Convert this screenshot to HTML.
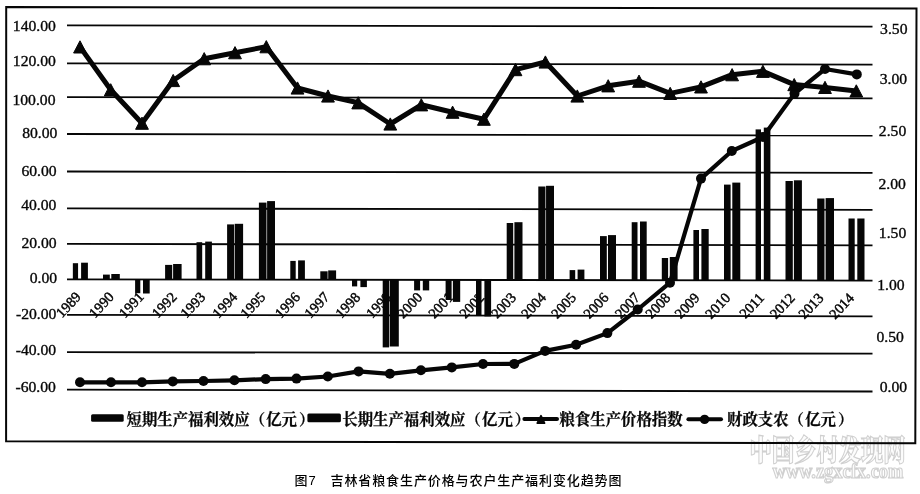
<!DOCTYPE html><html><head><meta charset="utf-8"><title>图7 吉林省粮食生产价格与农户生产福利变化趋势图</title><style>
html,body{margin:0;padding:0;background:#fff;}body{width:920px;height:494px;overflow:hidden;position:relative;}
svg{position:absolute;left:0;top:0;display:block;filter:grayscale(1);}
.num{font-family:"Liberation Serif","Times New Roman",serif;font-size:15px;fill:#060606;stroke:#060606;stroke-width:0.35px;}
.yr{font-family:"Liberation Serif","Times New Roman",serif;font-size:14.5px;fill:#060606;stroke:#060606;stroke-width:0.45px;}
.lg{font-family:"Liberation Serif","Noto Serif CJK SC",serif;font-size:15.4px;font-weight:700;fill:#060606;stroke:#060606;stroke-width:0.25px;}
.cap{font-family:"Liberation Sans","Noto Sans CJK SC",sans-serif;font-size:13px;font-weight:500;letter-spacing:0.9px;fill:#000;}
.wm{font-family:"Liberation Serif","Noto Serif CJK SC",serif;fill:#e4e4e4;stroke:#d2d2d2;stroke-width:0.6px;}
</style></head><body>
<svg width="920" height="494" viewBox="0 0 920 494">
<rect x="0" y="0" width="920" height="494" fill="#fff"/>
<text x="749.6" y="460.5" font-size="29" textLength="156" lengthAdjust="spacingAndGlyphs" fill="#fcfcfc" stroke="#d0d0d0" stroke-width="1.2" style="font-family:'Noto Serif CJK SC',serif;font-weight:900;">中国乡村发现网</text>
<text x="772.4" y="477.7" font-size="21" textLength="131" lengthAdjust="spacingAndGlyphs" fill="#fcfcfc" stroke="#d0d0d0" stroke-width="1.2" style="font-family:'Liberation Serif',serif;font-weight:700;">www.zgxcfx.com</text>
<polygon points="6.2,7 916.5,8.4 915.3,443.2 6.1,441.3" fill="none" stroke="#060606" stroke-width="2"/>
<line x1="67.0" y1="25.40" x2="872.5" y2="26.60" stroke="#060606" stroke-width="1.8"/>
<line x1="67.0" y1="63.40" x2="872.5" y2="64.60" stroke="#060606" stroke-width="1.8"/>
<line x1="67.0" y1="97.10" x2="872.5" y2="98.40" stroke="#060606" stroke-width="1.8"/>
<line x1="67.0" y1="134.00" x2="872.5" y2="135.50" stroke="#060606" stroke-width="1.8"/>
<line x1="67.0" y1="171.50" x2="872.5" y2="172.90" stroke="#060606" stroke-width="1.8"/>
<line x1="67.0" y1="208.40" x2="872.5" y2="209.80" stroke="#060606" stroke-width="1.8"/>
<line x1="67.0" y1="243.90" x2="872.5" y2="245.30" stroke="#060606" stroke-width="1.8"/>
<line x1="67.0" y1="279.30" x2="872.5" y2="280.60" stroke="#060606" stroke-width="1.8"/>
<line x1="67.0" y1="314.80" x2="872.5" y2="316.30" stroke="#060606" stroke-width="1.8"/>
<line x1="67.0" y1="352.10" x2="872.5" y2="353.70" stroke="#060606" stroke-width="1.8"/>
<line x1="67.0" y1="389.70" x2="872.5" y2="391.50" stroke="#060606" stroke-width="1.8"/>
<text class="yr" text-anchor="end" transform="translate(81.8,297.4) rotate(-47)">1989</text>
<text class="yr" text-anchor="end" transform="translate(114.8,297.5) rotate(-47)">1990</text>
<text class="yr" text-anchor="end" transform="translate(144.8,297.5) rotate(-47)">1991</text>
<text class="yr" text-anchor="end" transform="translate(177.7,297.6) rotate(-47)">1992</text>
<text class="yr" text-anchor="end" transform="translate(206.3,297.6) rotate(-47)">1993</text>
<text class="yr" text-anchor="end" transform="translate(238.3,297.7) rotate(-47)">1994</text>
<text class="yr" text-anchor="end" transform="translate(266.3,297.7) rotate(-47)">1995</text>
<text class="yr" text-anchor="end" transform="translate(300.9,297.8) rotate(-47)">1996</text>
<text class="yr" text-anchor="end" transform="translate(330.3,297.8) rotate(-47)">1997</text>
<text class="yr" text-anchor="end" transform="translate(361.2,297.9) rotate(-47)">1998</text>
<text class="yr" text-anchor="end" transform="translate(392.1,297.9) rotate(-47)">1999</text>
<text class="yr" text-anchor="end" transform="translate(423.1,298.0) rotate(-47)">2000</text>
<text class="yr" text-anchor="end" transform="translate(454.2,298.0) rotate(-47)">2001</text>
<text class="yr" text-anchor="end" transform="translate(485.2,298.1) rotate(-47)">2002</text>
<text class="yr" text-anchor="end" transform="translate(517.0,298.1) rotate(-47)">2003</text>
<text class="yr" text-anchor="end" transform="translate(547.0,298.2) rotate(-47)">2004</text>
<text class="yr" text-anchor="end" transform="translate(577.0,298.2) rotate(-47)">2005</text>
<text class="yr" text-anchor="end" transform="translate(609.4,298.3) rotate(-47)">2006</text>
<text class="yr" text-anchor="end" transform="translate(640.7,298.3) rotate(-47)">2007</text>
<text class="yr" text-anchor="end" transform="translate(671.3,298.4) rotate(-47)">2008</text>
<text class="yr" text-anchor="end" transform="translate(700.5,298.4) rotate(-47)">2009</text>
<text class="yr" text-anchor="end" transform="translate(731.1,298.5) rotate(-47)">2010</text>
<text class="yr" text-anchor="end" transform="translate(765.0,298.5) rotate(-47)">2011</text>
<text class="yr" text-anchor="end" transform="translate(795.7,298.6) rotate(-47)">2012</text>
<text class="yr" text-anchor="end" transform="translate(824.4,298.6) rotate(-47)">2013</text>
<text class="yr" text-anchor="end" transform="translate(855.0,298.7) rotate(-47)">2014</text>
<rect x="72.85" y="263.20" width="5.22" height="16.11" fill="#060606"/>
<rect x="81.10" y="262.70" width="6.80" height="16.63" fill="#060606"/>
<rect x="103.00" y="274.60" width="6.80" height="4.76" fill="#060606"/>
<rect x="111.30" y="274.00" width="8.50" height="5.38" fill="#060606"/>
<rect x="135.10" y="279.41" width="5.20" height="13.79" fill="#060606"/>
<rect x="143.00" y="279.43" width="6.70" height="14.07" fill="#060606"/>
<rect x="165.10" y="264.90" width="7.10" height="14.56" fill="#060606"/>
<rect x="173.10" y="264.00" width="8.50" height="15.48" fill="#060606"/>
<rect x="196.50" y="242.20" width="5.70" height="37.31" fill="#060606"/>
<rect x="205.20" y="241.60" width="6.70" height="37.93" fill="#060606"/>
<rect x="227.10" y="224.40" width="7.00" height="55.16" fill="#060606"/>
<rect x="234.70" y="223.80" width="8.40" height="55.78" fill="#060606"/>
<rect x="258.90" y="202.60" width="7.60" height="77.02" fill="#060606"/>
<rect x="267.10" y="201.10" width="7.90" height="78.53" fill="#060606"/>
<rect x="290.30" y="260.90" width="5.40" height="18.76" fill="#060606"/>
<rect x="298.10" y="260.40" width="6.80" height="19.28" fill="#060606"/>
<rect x="320.30" y="271.30" width="7.30" height="8.41" fill="#060606"/>
<rect x="328.20" y="270.40" width="7.90" height="9.33" fill="#060606"/>
<rect x="352.00" y="279.76" width="5.20" height="6.64" fill="#060606"/>
<rect x="360.40" y="279.78" width="6.50" height="7.32" fill="#060606"/>
<rect x="382.70" y="279.81" width="6.40" height="67.59" fill="#060606"/>
<rect x="389.70" y="279.83" width="9.10" height="66.67" fill="#060606"/>
<rect x="414.10" y="279.87" width="6.00" height="10.53" fill="#060606"/>
<rect x="422.80" y="279.88" width="6.40" height="10.52" fill="#060606"/>
<rect x="445.60" y="279.92" width="6.00" height="20.08" fill="#060606"/>
<rect x="452.90" y="279.93" width="7.30" height="21.97" fill="#060606"/>
<rect x="476.00" y="279.96" width="5.50" height="35.54" fill="#060606"/>
<rect x="484.40" y="279.98" width="6.70" height="36.42" fill="#060606"/>
<rect x="506.70" y="223.00" width="6.50" height="57.01" fill="#060606"/>
<rect x="514.40" y="222.20" width="8.10" height="57.83" fill="#060606"/>
<rect x="538.30" y="186.50" width="7.15" height="93.57" fill="#060606"/>
<rect x="546.05" y="185.80" width="7.95" height="94.28" fill="#060606"/>
<rect x="569.60" y="270.10" width="5.60" height="10.02" fill="#060606"/>
<rect x="577.60" y="269.60" width="6.80" height="10.53" fill="#060606"/>
<rect x="600.00" y="236.10" width="6.80" height="44.07" fill="#060606"/>
<rect x="608.00" y="235.10" width="8.00" height="45.08" fill="#060606"/>
<rect x="631.70" y="222.20" width="5.80" height="58.02" fill="#060606"/>
<rect x="640.00" y="221.50" width="6.70" height="58.73" fill="#060606"/>
<rect x="661.80" y="258.00" width="6.30" height="22.27" fill="#060606"/>
<rect x="669.80" y="257.00" width="7.80" height="23.28" fill="#060606"/>
<rect x="693.40" y="230.00" width="5.60" height="50.32" fill="#060606"/>
<rect x="701.40" y="229.00" width="7.30" height="51.33" fill="#060606"/>
<rect x="724.00" y="184.60" width="6.60" height="95.77" fill="#060606"/>
<rect x="732.30" y="182.60" width="8.00" height="97.78" fill="#060606"/>
<rect x="755.60" y="129.40" width="5.40" height="151.02" fill="#060606"/>
<rect x="763.80" y="127.60" width="6.60" height="152.83" fill="#060606"/>
<rect x="785.50" y="181.00" width="7.30" height="99.47" fill="#060606"/>
<rect x="793.90" y="180.30" width="8.00" height="100.18" fill="#060606"/>
<rect x="817.20" y="198.50" width="7.30" height="82.02" fill="#060606"/>
<rect x="825.60" y="198.10" width="8.40" height="82.43" fill="#060606"/>
<rect x="848.50" y="218.50" width="6.20" height="62.07" fill="#060606"/>
<rect x="857.30" y="218.50" width="7.20" height="62.08" fill="#060606"/>
<polyline points="80.0,382.3 111.0,382.3 142.0,382.3 172.8,381.4 203.5,381.0 234.4,380.3 265.7,379.1 296.5,378.6 327.8,376.5 358.6,371.4 389.9,373.8 420.9,370.3 451.8,367.4 483.0,364.0 514.3,363.9 545.1,350.9 576.1,344.8 607.4,333.1 637.7,309.5 670.0,282.7 701.0,178.6 731.8,151.0 763.0,137.0 794.5,93.6 825.0,69.0 856.8,74.4" fill="none" stroke="#060606" stroke-width="4.2" stroke-linejoin="round"/>
<circle cx="80.0" cy="382.3" r="5" fill="#060606"/>
<circle cx="111.0" cy="382.3" r="5" fill="#060606"/>
<circle cx="142.0" cy="382.3" r="5" fill="#060606"/>
<circle cx="172.8" cy="381.4" r="5" fill="#060606"/>
<circle cx="203.5" cy="381.0" r="5" fill="#060606"/>
<circle cx="234.4" cy="380.3" r="5" fill="#060606"/>
<circle cx="265.7" cy="379.1" r="5" fill="#060606"/>
<circle cx="296.5" cy="378.6" r="5" fill="#060606"/>
<circle cx="327.8" cy="376.5" r="5" fill="#060606"/>
<circle cx="358.6" cy="371.4" r="5" fill="#060606"/>
<circle cx="389.9" cy="373.8" r="5" fill="#060606"/>
<circle cx="420.9" cy="370.3" r="5" fill="#060606"/>
<circle cx="451.8" cy="367.4" r="5" fill="#060606"/>
<circle cx="483.0" cy="364.0" r="5" fill="#060606"/>
<circle cx="514.3" cy="363.9" r="5" fill="#060606"/>
<circle cx="545.1" cy="350.9" r="5" fill="#060606"/>
<circle cx="576.1" cy="344.8" r="5" fill="#060606"/>
<circle cx="607.4" cy="333.1" r="5" fill="#060606"/>
<circle cx="637.7" cy="309.5" r="5" fill="#060606"/>
<circle cx="670.0" cy="282.7" r="5" fill="#060606"/>
<circle cx="701.0" cy="178.6" r="5" fill="#060606"/>
<circle cx="731.8" cy="151.0" r="5" fill="#060606"/>
<circle cx="763.0" cy="137.0" r="5" fill="#060606"/>
<circle cx="794.5" cy="93.6" r="5" fill="#060606"/>
<circle cx="825.0" cy="69.0" r="5" fill="#060606"/>
<circle cx="856.8" cy="74.4" r="5" fill="#060606"/>
<polyline points="80.0,46.9 110.7,89.8 142.0,123.2 173.2,80.5 204.2,58.7 235.0,52.7 266.3,46.7 297.5,88.0 328.0,96.0 358.2,102.8 390.3,124.0 421.3,104.8 452.6,112.2 483.9,119.2 515.5,69.6 545.4,62.0 577.3,96.0 608.2,85.8 639.0,81.2 670.2,93.4 701.0,86.9 732.1,74.7 762.9,71.3 794.2,84.6 825.0,87.4 856.3,90.9" fill="none" stroke="#060606" stroke-width="5" stroke-linejoin="round"/>
<polygon points="80.0,40.8 86.4,53.0 73.6,53.0" fill="#060606" stroke="#060606" stroke-width="1" stroke-linejoin="round"/>
<polygon points="110.7,83.7 117.1,95.9 104.3,95.9" fill="#060606" stroke="#060606" stroke-width="1" stroke-linejoin="round"/>
<polygon points="142.0,117.1 148.4,129.3 135.6,129.3" fill="#060606" stroke="#060606" stroke-width="1" stroke-linejoin="round"/>
<polygon points="173.2,74.4 179.6,86.6 166.8,86.6" fill="#060606" stroke="#060606" stroke-width="1" stroke-linejoin="round"/>
<polygon points="204.2,52.6 210.6,64.8 197.8,64.8" fill="#060606" stroke="#060606" stroke-width="1" stroke-linejoin="round"/>
<polygon points="235.0,46.6 241.4,58.8 228.6,58.8" fill="#060606" stroke="#060606" stroke-width="1" stroke-linejoin="round"/>
<polygon points="266.3,40.6 272.7,52.8 259.9,52.8" fill="#060606" stroke="#060606" stroke-width="1" stroke-linejoin="round"/>
<polygon points="297.5,81.9 303.9,94.1 291.1,94.1" fill="#060606" stroke="#060606" stroke-width="1" stroke-linejoin="round"/>
<polygon points="328.0,89.9 334.4,102.1 321.6,102.1" fill="#060606" stroke="#060606" stroke-width="1" stroke-linejoin="round"/>
<polygon points="358.2,96.7 364.6,108.9 351.8,108.9" fill="#060606" stroke="#060606" stroke-width="1" stroke-linejoin="round"/>
<polygon points="390.3,117.9 396.7,130.1 383.9,130.1" fill="#060606" stroke="#060606" stroke-width="1" stroke-linejoin="round"/>
<polygon points="421.3,98.7 427.7,110.9 414.9,110.9" fill="#060606" stroke="#060606" stroke-width="1" stroke-linejoin="round"/>
<polygon points="452.6,106.1 459.0,118.3 446.2,118.3" fill="#060606" stroke="#060606" stroke-width="1" stroke-linejoin="round"/>
<polygon points="483.9,113.1 490.3,125.3 477.5,125.3" fill="#060606" stroke="#060606" stroke-width="1" stroke-linejoin="round"/>
<polygon points="515.5,63.5 521.9,75.7 509.1,75.7" fill="#060606" stroke="#060606" stroke-width="1" stroke-linejoin="round"/>
<polygon points="545.4,55.9 551.8,68.1 539.0,68.1" fill="#060606" stroke="#060606" stroke-width="1" stroke-linejoin="round"/>
<polygon points="577.3,89.9 583.7,102.1 570.9,102.1" fill="#060606" stroke="#060606" stroke-width="1" stroke-linejoin="round"/>
<polygon points="608.2,79.7 614.6,91.9 601.8,91.9" fill="#060606" stroke="#060606" stroke-width="1" stroke-linejoin="round"/>
<polygon points="639.0,75.1 645.4,87.3 632.6,87.3" fill="#060606" stroke="#060606" stroke-width="1" stroke-linejoin="round"/>
<polygon points="670.2,87.3 676.6,99.5 663.8,99.5" fill="#060606" stroke="#060606" stroke-width="1" stroke-linejoin="round"/>
<polygon points="701.0,80.8 707.4,93.0 694.6,93.0" fill="#060606" stroke="#060606" stroke-width="1" stroke-linejoin="round"/>
<polygon points="732.1,68.6 738.5,80.8 725.7,80.8" fill="#060606" stroke="#060606" stroke-width="1" stroke-linejoin="round"/>
<polygon points="762.9,65.2 769.3,77.4 756.5,77.4" fill="#060606" stroke="#060606" stroke-width="1" stroke-linejoin="round"/>
<polygon points="794.2,78.5 800.6,90.7 787.8,90.7" fill="#060606" stroke="#060606" stroke-width="1" stroke-linejoin="round"/>
<polygon points="825.0,81.3 831.4,93.5 818.6,93.5" fill="#060606" stroke="#060606" stroke-width="1" stroke-linejoin="round"/>
<polygon points="856.3,84.8 862.7,97.0 849.9,97.0" fill="#060606" stroke="#060606" stroke-width="1" stroke-linejoin="round"/>
<text class="num" text-anchor="end" transform="translate(55.9,30.8) scale(1.045,1)">140.00</text>
<text class="num" text-anchor="end" transform="translate(55.9,66.0) scale(1.045,1)">120.00</text>
<text class="num" text-anchor="end" transform="translate(55.5,104.7) scale(1.045,1)">100.00</text>
<text class="num" text-anchor="end" transform="translate(57.4,137.5) scale(1.045,1)">80.00</text>
<text class="num" text-anchor="end" transform="translate(56.7,175.7) scale(1.045,1)">60.00</text>
<text class="num" text-anchor="end" transform="translate(56.4,210.0) scale(1.045,1)">40.00</text>
<text class="num" text-anchor="end" transform="translate(56.7,247.6) scale(1.045,1)">20.00</text>
<text class="num" text-anchor="end" transform="translate(57.1,283.3) scale(1.045,1)">0.00</text>
<text class="num" text-anchor="end" transform="translate(56.4,319.0) scale(1.045,1)">-20.00</text>
<text class="num" text-anchor="end" transform="translate(56.2,354.9) scale(1.045,1)">-40.00</text>
<text class="num" text-anchor="end" transform="translate(55.9,391.7) scale(1.045,1)">-60.00</text>
<text class="num" transform="translate(880.1,34.1) scale(1.045,1)">3.50</text>
<text class="num" transform="translate(879.7,84.1) scale(1.045,1)">3.00</text>
<text class="num" transform="translate(878.8,135.7) scale(1.045,1)">2.50</text>
<text class="num" transform="translate(878.5,188.7) scale(1.045,1)">2.00</text>
<text class="num" transform="translate(878.8,237.9) scale(1.045,1)">1.50</text>
<text class="num" transform="translate(877.2,289.6) scale(1.045,1)">1.00</text>
<text class="num" transform="translate(876.5,341.8) scale(1.045,1)">0.50</text>
<text class="num" transform="translate(879.7,391.5) scale(1.045,1)">0.00</text>
<rect x="91.1" y="414.2" width="32.6" height="7.6" rx="1.5" fill="#060606"/>
<text class="lg" x="126.5" y="425.3">短期生产福利效应（<tspan dx="1.2">亿元</tspan><tspan dx="2">）</tspan></text>
<rect x="307.4" y="413.6" width="33.5" height="8.6" rx="1.5" fill="#060606"/>
<text class="lg" x="342.3" y="425.3">长期生产福利效应（<tspan dx="1.2">亿元</tspan><tspan dx="2">）</tspan></text>
<line x1="524.4" y1="419.1" x2="557" y2="419.1" stroke="#060606" stroke-width="4" stroke-linecap="round"/>
<polygon points="541,415.6 544.6,423.2 537.2,423.2" fill="#060606" stroke="#060606" stroke-width="1.6" stroke-linejoin="round"/>
<text class="lg" x="559.5" y="425.3">粮食生产价格指数</text>
<line x1="688.4" y1="419.2" x2="721" y2="419.2" stroke="#060606" stroke-width="4" stroke-linecap="round"/>
<circle cx="704.6" cy="419.4" r="4.7" fill="#060606"/>
<text class="lg" x="727" y="425.3">财政支农（<tspan dx="1.2">亿元</tspan><tspan dx="2">）</tspan></text>
<text class="cap" x="294.5" y="484.6">图7</text>
<text class="cap" x="330.5" y="484.6">吉林省粮食生产价格与农户生产福利变化趋势图</text>
</svg></body></html>
